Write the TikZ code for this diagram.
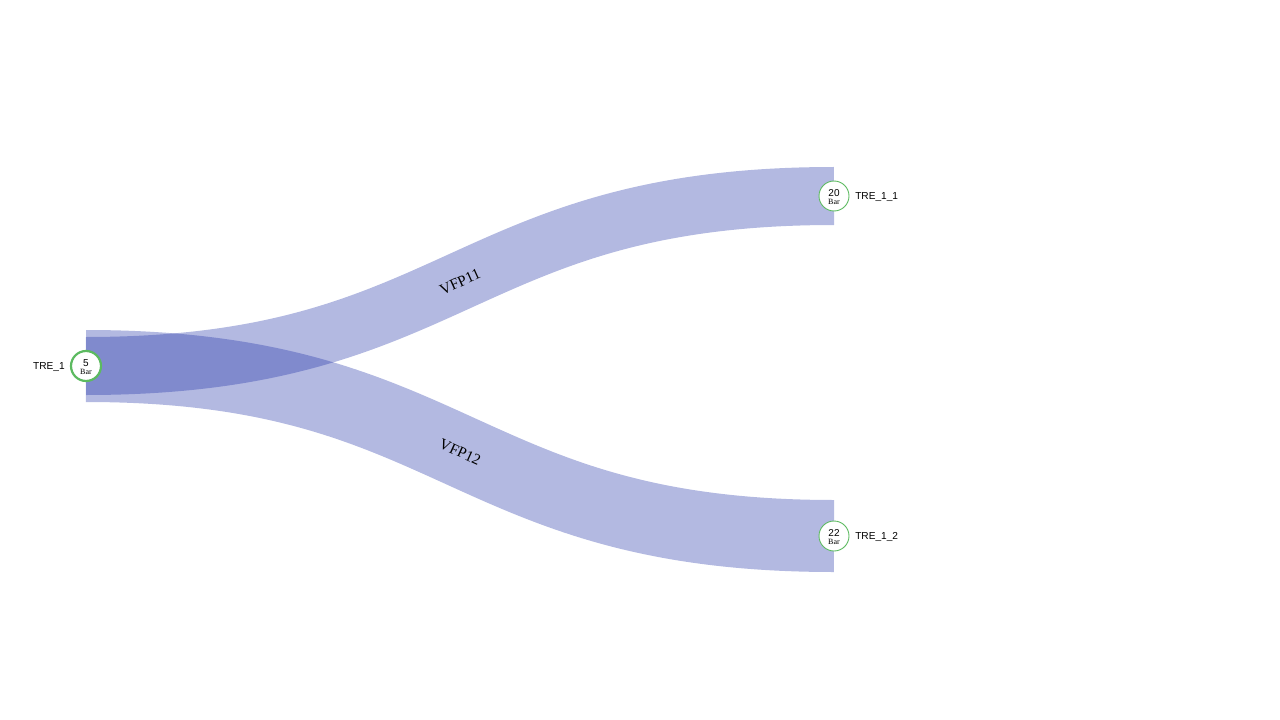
\documentclass[tikz,border=0pt]{standalone}
\usepackage{fontspec}
\setmainfont{Liberation Serif}
\setsansfont{Liberation Sans}
\definecolor{flow}{RGB}{24,42,164}
\definecolor{nodegreen}{RGB}{92,186,96}
\newcommand{\stationval}[1]{{\sffamily\fontsize{7.5}{7}\selectfont #1}\\[-5.5pt]{\fontsize{6}{6}\selectfont Bar}}
\begin{document}
\begin{tikzpicture}[x=0.75pt,y=-0.75pt,
  flowband/.style={draw=flow,draw opacity=0.33,line cap=butt},
  station/.style={circle,draw=nodegreen,fill=white,minimum size=30*0.75pt,inner sep=0pt},
  valtext/.style={inner sep=0pt,align=center},
  stationtext/.style={font=\sffamily\fontsize{7.6}{9}\selectfont,inner sep=0pt},
  flowlabel/.style={font=\fontsize{11.5}{13}\selectfont}]
\useasboundingbox (0,0) rectangle (1280,720);
\coordinate (s) at (86,366);
\coordinate (t1) at (834,196);
\coordinate (t2) at (834,536);
\draw[flowband,line width=72*0.75pt] (s) .. controls (460,366) and (460,536) .. (t2);
\draw[flowband,line width=58*0.75pt] (s) .. controls (460,366) and (460,196) .. (t1);
\node[flowlabel,rotate=24.4] (l1) at (460,282) {VFP11};
\node[flowlabel,rotate=-24.4] (l2) at (460,452) {VFP12};
\node[station,line width=2.2*0.75pt] (n0) at (s) {};
\node[station,line width=0.9*0.75pt] (n1) at (t1) {};
\node[station,line width=0.9*0.75pt] (n2) at (t2) {};
\node[valtext] (v0) at ([yshift=-0.8pt]n0.center) {\stationval{5}};
\node[valtext] (v1) at ([yshift=-0.8pt]n1.center) {\stationval{20}};
\node[valtext] (v2) at ([yshift=-0.8pt]n2.center) {\stationval{22}};
\node[stationtext,anchor=east] (a0) at (65,367) {TRE\_1};
\node[stationtext,anchor=west] (a1) at (855,197) {TRE\_1\_1};
\node[stationtext,anchor=west] (a2) at (855,537) {TRE\_1\_2};
\end{tikzpicture}
\end{document}
